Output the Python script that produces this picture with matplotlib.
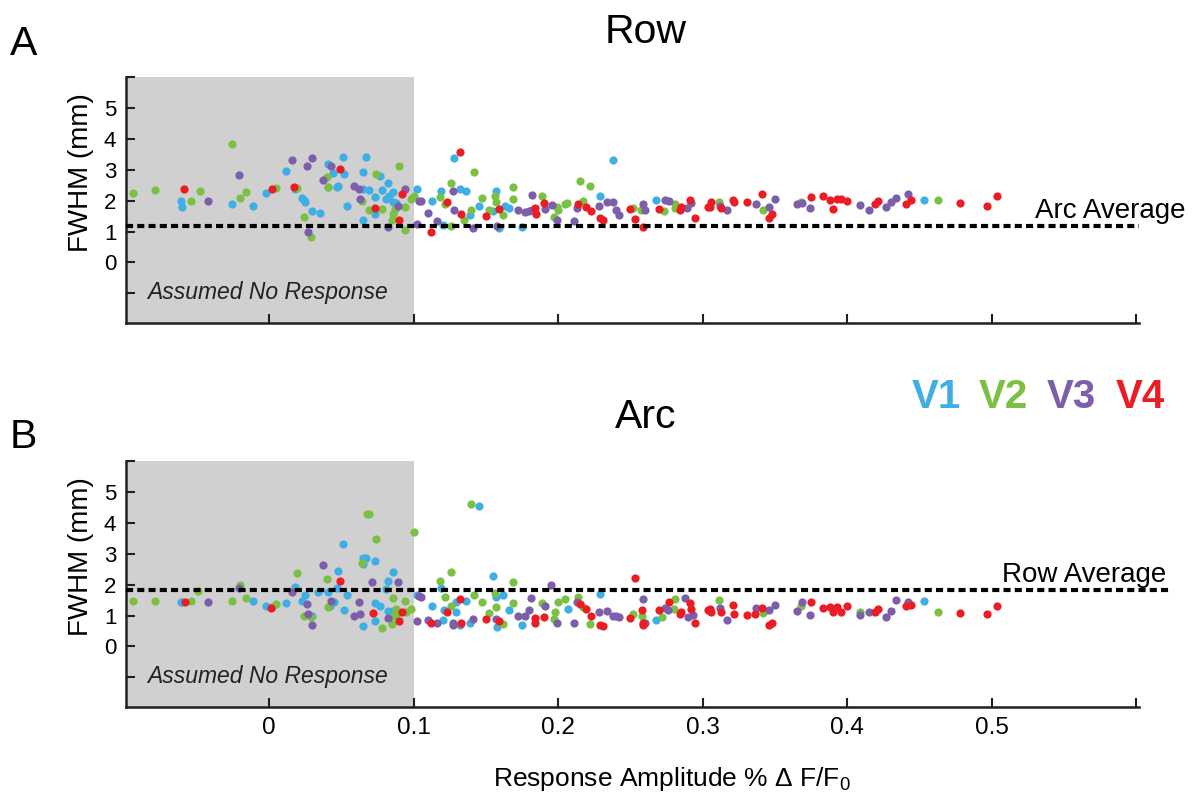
import matplotlib.pyplot as plt
import matplotlib.transforms as mtransforms

plt.rcParams['font.family'] = ['Liberation Sans', 'DejaVu Sans']
plt.rcParams['mathtext.fontset'] = 'custom'
plt.rcParams['mathtext.rm'] = 'Liberation Sans'

# colours for the four visual areas
AREAS = ["V1", "V2", "V3", "V4"]
COLORS = ["#3FAEE4", "#7AC143", "#7D5EAB", "#EC1C24"]

# ---- Row (panel A): response amplitude vs FWHM ----
row_v1_x = [-0.061, -0.060, -0.026, -0.011, -0.002, 0.012, 0.018, 0.023, 0.024, 0.025, 0.030, 0.035,
            0.041, 0.044, 0.052, 0.041, 0.047, 0.048, 0.051, 0.054, 0.065, 0.069, 0.067, 0.065,
            0.077, 0.073, 0.065, 0.073, 0.078, 0.082, 0.081, 0.083, 0.086, 0.086, 0.088, 0.102,
            0.113, 0.119, 0.120, 0.128, 0.132, 0.136, 0.139, 0.145, 0.155, 0.157, 0.159, 0.163,
            0.166, 0.175, 0.229, 0.238, 0.268, 0.453]
row_v1_y = [1.98, 1.81, 1.88, 1.82, 2.25, 2.95, 2.37, 2.08, 2.01, 1.95, 1.65, 1.60,
            3.19, 2.90, 2.87, 2.44, 2.44, 2.49, 3.41, 1.83, 2.39, 2.33, 3.41, 2.92,
            2.81, 2.12, 1.36, 1.58, 2.34, 2.57, 2.05, 2.14, 2.28, 1.95, 1.94, 2.39,
            1.98, 2.31, 1.20, 3.37, 2.39, 2.31, 1.53, 1.82, 1.65, 2.32, 1.12, 1.83,
            1.77, 1.15, 2.14, 3.30, 2.03, 2.01]

row_v2_x = [-0.094, -0.079, -0.048, -0.054, -0.026, -0.020, -0.016, 0.005, 0.019, 0.024, 0.029, 0.040,
            0.041, 0.064, 0.074, 0.069, 0.078, 0.090, 0.087, 0.086, 0.085, 0.094, 0.094, 0.098,
            0.100, 0.118, 0.122, 0.126, 0.135, 0.126, 0.142, 0.140, 0.147, 0.152, 0.156, 0.157,
            0.162, 0.169, 0.169, 0.189, 0.199, 0.200, 0.197, 0.205, 0.206, 0.215, 0.217, 0.222,
            0.252, 0.257, 0.273, 0.281, 0.281, 0.311, 0.342, 0.368, 0.463]
row_v2_y = [2.25, 2.36, 2.32, 1.98, 3.84, 2.08, 2.29, 2.42, 2.41, 1.48, 0.83, 2.78,
            2.44, 1.98, 2.85, 1.69, 1.73, 3.12, 1.73, 1.58, 1.36, 1.04, 1.79, 2.06,
            2.15, 2.12, 1.88, 2.57, 1.36, 1.19, 2.92, 1.69, 2.10, 1.69, 2.16, 1.95,
            1.55, 2.44, 2.04, 2.15, 1.79, 1.71, 1.47, 1.90, 1.91, 2.63, 1.98, 2.46,
            1.77, 1.69, 1.66, 1.90, 1.77, 1.95, 1.69, 1.95, 2.01]

row_v3_x = [-0.042, -0.021, 0.016, 0.026, 0.030, 0.027, 0.037, 0.043, 0.059, 0.062, 0.063, 0.094,
            0.082, 0.089, 0.102, 0.104, 0.105, 0.110, 0.116, 0.127, 0.128, 0.141, 0.158, 0.172,
            0.177, 0.180, 0.182, 0.182, 0.191, 0.196, 0.199, 0.211, 0.213, 0.228, 0.234, 0.238,
            0.240, 0.242, 0.259, 0.260, 0.274, 0.277, 0.289, 0.292, 0.312, 0.317, 0.337, 0.346,
            0.350, 0.365, 0.369, 0.374, 0.409, 0.415, 0.427, 0.430, 0.434, 0.442]
row_v3_y = [1.98, 2.84, 3.30, 3.13, 3.37, 0.99, 2.68, 3.13, 2.46, 2.39, 2.06, 2.39,
            1.14, 1.82, 1.26, 1.98, 1.98, 1.61, 1.33, 2.31, 1.69, 1.12, 1.17, 1.69,
            1.63, 1.66, 2.17, 1.69, 1.73, 1.85, 1.36, 1.34, 1.75, 1.83, 1.95, 1.95,
            1.69, 1.54, 1.88, 1.71, 2.03, 1.99, 1.77, 1.94, 1.83, 1.71, 1.90, 1.79,
            2.04, 1.88, 1.92, 1.75, 1.87, 1.70, 1.81, 1.97, 2.10, 2.23]

row_v4_x = [-0.059, 0.002, 0.017, 0.049, 0.073, 0.092, 0.090, 0.112, 0.123, 0.132, 0.133, 0.150,
            0.159, 0.184, 0.185, 0.190, 0.214, 0.219, 0.223, 0.229, 0.231, 0.250, 0.253, 0.259,
            0.270, 0.284, 0.285, 0.291, 0.295, 0.304, 0.305, 0.306, 0.313, 0.321, 0.322, 0.331,
            0.341, 0.346, 0.348, 0.375, 0.383, 0.388, 0.390, 0.393, 0.396, 0.400, 0.419, 0.421,
            0.444, 0.441, 0.478, 0.497, 0.504]
row_v4_y = [2.39, 2.39, 2.44, 3.03, 1.77, 2.20, 1.39, 0.97, 1.95, 3.58, 1.56, 1.49,
            1.74, 1.76, 1.56, 1.92, 1.90, 1.79, 1.66, 1.43, 1.36, 1.74, 1.41, 1.15,
            1.74, 1.69, 1.79, 2.01, 1.44, 1.79, 1.79, 1.95, 1.77, 2.01, 1.95, 1.95,
            2.21, 1.45, 1.58, 2.11, 2.16, 2.01, 1.72, 2.04, 2.06, 1.98, 1.90, 1.98,
            2.03, 1.88, 1.94, 1.82, 2.16]

# ---- Arc (panel B) ----
arc_v1_x = [-0.061, -0.060, -0.011, -0.002, 0.002, 0.012, 0.018, 0.023, 0.025, 0.030, 0.034, 0.041,
            0.042, 0.045, 0.048, 0.047, 0.051, 0.054, 0.052, 0.065, 0.065, 0.067, 0.065, 0.073,
            0.073, 0.077, 0.073, 0.082, 0.086, 0.081, 0.082, 0.086, 0.102, 0.113, 0.119, 0.120,
            0.121, 0.129, 0.129, 0.132, 0.136, 0.145, 0.139, 0.155, 0.157, 0.158, 0.162, 0.166,
            0.175, 0.207, 0.229, 0.268, 0.453]
arc_v1_y = [1.45, 1.45, 1.47, 1.32, 1.29, 1.40, 1.94, 1.47, 1.67, 0.98, 1.77, 1.77,
            1.32, 1.45, 2.45, 1.88, 3.30, 1.67, 1.18, 0.65, 2.87, 2.87, 2.67, 2.78,
            1.40, 1.32, 0.83, 2.12, 2.41, 1.85, 1.16, 1.16, 1.65, 1.32, 1.88, 0.87,
            1.18, 1.45, 1.13, 0.68, 1.47, 4.53, 0.75, 2.27, 1.61, 0.62, 1.65, 1.17,
            0.68, 1.20, 1.69, 0.85, 1.48]

arc_v2_x = [-0.094, -0.079, -0.054, -0.049, -0.026, -0.020, -0.016, 0.005, 0.019, 0.024, 0.029, 0.040,
            0.041, 0.064, 0.068, 0.069, 0.074, 0.078, 0.086, 0.085, 0.088, 0.088, 0.089, 0.086,
            0.094, 0.095, 0.098, 0.100, 0.118, 0.122, 0.126, 0.126, 0.140, 0.142, 0.147, 0.152,
            0.156, 0.157, 0.162, 0.169, 0.169, 0.189, 0.197, 0.200, 0.198, 0.205, 0.214, 0.217,
            0.222, 0.252, 0.258, 0.272, 0.281, 0.280, 0.311, 0.342, 0.368, 0.409, 0.463]
arc_v2_y = [1.47, 1.47, 1.47, 1.80, 1.47, 1.99, 1.58, 1.38, 2.39, 0.98, 0.94, 2.17,
            1.27, 2.71, 4.28, 4.27, 3.48, 0.59, 1.58, 0.72, 1.22, 1.02, 1.11, 1.00,
            1.47, 1.13, 1.22, 3.70, 2.12, 1.61, 2.41, 1.32, 4.61, 1.67, 1.43, 1.07,
            1.72, 1.29, 0.72, 2.07, 1.42, 1.42, 0.89, 1.43, 1.13, 1.53, 1.61, 1.29,
            0.74, 1.04, 0.97, 0.94, 1.54, 1.20, 1.51, 1.07, 1.30, 1.11, 1.13]

arc_v3_x = [-0.042, -0.021, 0.016, 0.026, 0.027, 0.030, 0.037, 0.043, 0.059, 0.063, 0.062, 0.071,
            0.082, 0.089, 0.104, 0.102, 0.105, 0.110, 0.116, 0.127, 0.127, 0.141, 0.157, 0.172,
            0.177, 0.180, 0.181, 0.191, 0.195, 0.199, 0.211, 0.213, 0.228, 0.234, 0.238, 0.240,
            0.242, 0.259, 0.260, 0.274, 0.276, 0.288, 0.290, 0.293, 0.312, 0.317, 0.337, 0.346,
            0.350, 0.365, 0.369, 0.374, 0.409, 0.415, 0.427, 0.430, 0.434, 0.442]
arc_v3_y = [1.45, 1.90, 1.75, 1.36, 1.04, 0.68, 2.65, 1.47, 0.97, 1.05, 1.45, 2.07,
            0.91, 2.07, 1.64, 0.83, 1.61, 0.85, 0.75, 0.75, 0.70, 0.89, 0.88, 0.97,
            0.97, 1.18, 1.56, 1.32, 1.99, 0.75, 0.75, 1.43, 1.13, 1.16, 1.00, 0.97,
            0.94, 1.53, 0.75, 1.26, 1.18, 1.56, 0.94, 1.02, 1.26, 0.84, 1.26, 1.17,
            1.35, 1.15, 1.45, 1.02, 1.01, 1.11, 0.95, 1.15, 1.51, 1.43]

arc_v4_x = [-0.058, 0.001, 0.049, 0.072, 0.090, 0.092, 0.112, 0.123, 0.132, 0.133, 0.150, 0.159,
            0.184, 0.184, 0.190, 0.215, 0.219, 0.223, 0.229, 0.231, 0.253, 0.258, 0.250, 0.259,
            0.259, 0.270, 0.277, 0.284, 0.285, 0.291, 0.292, 0.295, 0.304, 0.305, 0.306, 0.313,
            0.321, 0.322, 0.331, 0.336, 0.341, 0.346, 0.348, 0.375, 0.383, 0.388, 0.390, 0.393,
            0.396, 0.400, 0.419, 0.421, 0.441, 0.444, 0.478, 0.497, 0.504]
arc_v4_y = [1.45, 1.24, 2.13, 1.07, 0.81, 1.11, 0.77, 1.13, 1.54, 0.75, 0.89, 0.83,
            0.91, 0.75, 0.95, 1.38, 1.22, 0.99, 0.68, 0.67, 2.20, 1.18, 0.91, 0.75,
            0.68, 1.18, 1.43, 1.05, 1.10, 1.40, 1.20, 0.77, 1.17, 1.20, 1.13, 1.11,
            1.33, 1.04, 1.02, 1.04, 1.26, 0.70, 0.75, 1.43, 1.26, 1.27, 1.11, 1.27,
            1.11, 1.32, 1.13, 1.22, 1.30, 1.35, 1.07, 1.05, 1.32]

arc_average = 1.19   # dashed line in Row panel
row_average = 1.83   # dashed line in Arc panel
threshold = 0.1      # "Assumed No Response" region

row_series = [(row_v1_x, row_v1_y), (row_v2_x, row_v2_y), (row_v3_x, row_v3_y), (row_v4_x, row_v4_y)]
arc_series = [(arc_v1_x, arc_v1_y), (arc_v2_x, arc_v2_y), (arc_v3_x, arc_v3_y), (arc_v4_x, arc_v4_y)]

INK = "#231f20"

fig = plt.figure(figsize=(11.96, 7.99), dpi=100)
ax1 = fig.add_axes([0.1054, 0.5957, 0.847, 0.3079])
ax2 = fig.add_axes([0.1054, 0.1151, 0.847, 0.3079])


def setup(ax, series, avg, avg_label, avg_label_x, line_end, show_xlabels):
    ax.set_xlim(-0.099, 0.602)
    ax.set_ylim(-1.96, 6.0)
    ax.axvspan(-0.2, threshold, color="#d0d0d0", zorder=0, lw=0)
    for (xs, ys), c in zip(series, COLORS):
        ax.scatter(xs, ys, s=35, color=c, linewidths=0, zorder=3)
    trans = mtransforms.blended_transform_factory(ax.transAxes, ax.transData)
    ax.plot([0, line_end], [avg, avg], transform=trans, color="black", lw=3,
            dashes=(1.7, 1.0), dash_capstyle="butt", clip_on=False, zorder=4)
    ax.text(avg_label_x, avg + 0.24, avg_label, fontsize=20, ha="left", va="baseline")
    ax.text(-0.0846, -1.18, "Assumed No Response", fontsize=16.5, style="italic",
            ha="left", va="baseline", color="#222222")

    for s in ["top", "right"]:
        ax.spines[s].set_visible(False)
    for s in ["left", "bottom"]:
        ax.spines[s].set_linewidth(1.8)
        ax.spines[s].set_color(INK)
    ax.set_yticks(range(-1, 7))
    ax.set_yticklabels(["", "0", "1", "2", "3", "4", "5", ""])
    ax.set_xticks([0, 0.1, 0.2, 0.3, 0.4, 0.5, 0.6])
    if show_xlabels:
        ax.set_xticklabels(["0", "0.1", "0.2", "0.3", "0.4", "0.5", ""])
    else:
        ax.set_xticklabels([])
    ax.tick_params(direction="in", length=6.5, width=1.5, color=INK, pad=7,
                   labelsize=16)
    ax.tick_params(axis="x", labelsize=17.5)
    ax.set_ylabel("FWHM (mm)", fontsize=20)
    ax.yaxis.set_label_coords(-0.032, 0.61)


setup(ax1, row_series, arc_average, "Arc Average", 0.530, 1.0, False)
setup(ax2, arc_series, row_average, "Row Average", 0.507, 1.03, True)

fig.text(646 / 1196, 1 - 43 / 799, "Row", fontsize=29.5, ha="center", va="baseline")
fig.text(646 / 1196, 1 - 428 / 799, "Arc", fontsize=29.5, ha="center", va="baseline")
fig.text(10 / 1196, 1 - 55 / 799, "A", fontsize=29.5, ha="left", va="baseline")
fig.text(10 / 1196, 1 - 448 / 799, "B", fontsize=29.5, ha="left", va="baseline")

legend_x = [912, 979, 1047, 1116]
for lx, name, c in zip(legend_x, AREAS, COLORS):
    fig.text(lx / 1196, 1 - 407.7 / 799, name, fontsize=29, fontweight="bold",
             color=c, ha="left", va="baseline")

fig.text(672 / 1196, 1 - 786 / 799, r"Response Amplitude % $\Delta$ F/F$_0$", fontsize=19,
         ha="center", va="baseline")

fig.savefig("out.png", dpi=100)
